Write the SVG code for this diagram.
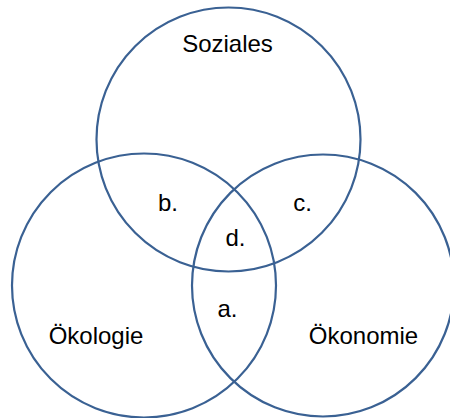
<svg xmlns="http://www.w3.org/2000/svg" width="450" height="418" viewBox="0 0 450 418">
  <style>
    .c { fill: none; stroke: #3A6193; stroke-width: 2.2; }
    .t { font-family: "Liberation Sans", Arial, sans-serif; font-size: 24px; fill: #000; text-anchor: middle; }
  </style>
  <rect width="450" height="418" fill="#fff"/>
  <g id="soziales">
    <circle class="c" cx="228.5" cy="139.5" r="132"/>
    <text class="t" x="227.5" y="52">Soziales</text>
  </g>
  <g id="oekologie">
    <circle class="c" cx="144" cy="285.5" r="132"/>
    <text class="t" x="96" y="344">Ökologie</text>
  </g>
  <g id="oekonomie">
    <circle class="c" cx="323" cy="285.5" r="131"/>
    <text class="t" x="363.5" y="344">Ökonomie</text>
  </g>
  <g id="labels">
    <text class="t" x="168" y="211">b.</text>
    <text class="t" x="302.5" y="211">c.</text>
    <text class="t" x="235.5" y="246">d.</text>
    <text class="t" x="227.5" y="317">a.</text>
  </g>
</svg>
